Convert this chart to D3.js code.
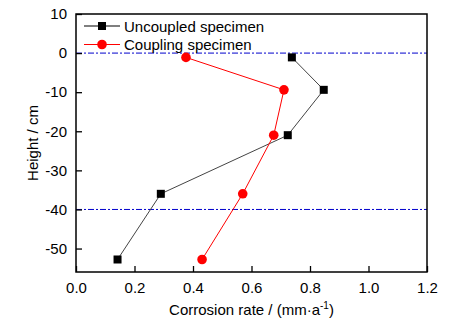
<!DOCTYPE html>
<html>
<head>
<meta charset="utf-8">
<script src="https://cdn.jsdelivr.net/npm/d3@7"></script>
<style>
	body{margin:0;background:#fff;}
	text{font-family:Arial,"Liberation Sans",sans-serif;fill:#000;}
</style>
</head>
<body>
<div id="chart"></div>
<script>
// corrosion rate (mm/a) against height (cm)
const heights = [-1.1, -9.4, -21, -36, -52.8];
const uncoupled = [0.738, 0.847, 0.724, 0.290, 0.142];
const coupling = [0.376, 0.711, 0.676, 0.570, 0.431];
const refLines = [0, -40];
const xTicks = [0, 0.2, 0.4, 0.6, 0.8, 1.0, 1.2];
const yTicks = [10, 0, -10, -20, -30, -40, -50];

const W = 455, H = 330;
const m = {t:14, r:28, b:58, l:76};
const w = W - m.l - m.r, h = H - m.t - m.b;

const svg = d3.select('#chart').append('svg')
	.attr('width',W).attr('height',H);
const g = svg.append('g').attr('transform',`translate(${m.l},${m.t})`);

const x = d3.scaleLinear().domain([0,1.2]).range([0,w]);
const y = d3.scaleLinear().domain([-56,10]).range([h,0]);

// dash-dot reference lines
g.selectAll('.ref')
	.data(refLines)
	.enter().append('line').attr('class','ref')
	.attr('x1',0).attr('x2',w)
	.attr('y1',d=>y(d)).attr('y2',d=>y(d))
	.style('stroke','#0000cc')
	.style('stroke-width',1)
	.style('stroke-dasharray','6,2,2,2');

// axes with inward ticks
const xAxis = g.append('g').attr('transform',`translate(0,${h})`)
	.call(d3.axisBottom(x).tickValues(xTicks).tickFormat(d3.format('.1f')).tickSizeInner(-6).tickSizeOuter(0).tickPadding(10));
const yAxis = g.append('g')
	.call(d3.axisLeft(y).tickValues(yTicks).tickFormat(d=>d).tickSizeInner(-6).tickSizeOuter(0).tickPadding(9));
[xAxis,yAxis].forEach(a=>{
	a.selectAll('path').remove();
	a.selectAll('line').style('stroke','#000').style('stroke-width',1.3);
	a.selectAll('text').style('font-size','15px').style('fill','#000');
});

// frame
g.append('rect')
	.attr('width',w).attr('height',h)
	.style('fill','none').style('stroke','#000').style('stroke-width',1.5);

const series = [
	{name:'Uncoupled specimen', vals:uncoupled, line:'#444', fill:'#000', shape:'square'},
	{name:'Coupling specimen', vals:coupling, line:'#ff0000', fill:'#ff0000', shape:'circle'}
];

const lineGen = d3.line().x(d=>x(d[0])).y(d=>y(d[1]));

function marker(sel, s){
	if(s.shape==='square'){
		sel.append('rect').attr('x',-4).attr('y',-4).attr('width',8).attr('height',8).style('fill',s.fill);
	}else{
		sel.append('circle').attr('r',4.8).style('fill',s.fill);
	}
}

series.forEach(s=>{
	const pts = s.vals.map((v,i)=>[v,heights[i]]);
	g.append('path')
		.attr('d',lineGen(pts))
		.style('fill','none')
		.style('stroke',s.line)
		.style('stroke-width',1);
	g.selectAll(null)
		.data(pts)
		.enter().append('g')
		.attr('transform',d=>`translate(${x(d[0])},${y(d[1])})`)
		.each(function(){ marker(d3.select(this), s); });
});

// legend
const legend = g.append('g').attr('transform','translate(8,12)');
series.forEach((s,i)=>{
	const row = legend.append('g').attr('transform',`translate(0,${i*18.5})`);
	row.append('line').attr('x1',0).attr('x2',36)
		.style('stroke',s.line==='#444'?'#000':s.line).style('stroke-width',1.2);
	marker(row.append('g').attr('transform','translate(18,0)'), s);
	row.append('text').attr('x',40).attr('y',5.5)
		.style('font-size','15px').text(s.name);
});

// axis titles
svg.append('text')
	.attr('transform',`translate(38,${m.t+h/2}) rotate(-90)`)
	.attr('text-anchor','middle')
	.style('font-size','15px')
	.text('Height / cm');

const xt = svg.append('text')
	.attr('x',m.l+w/2).attr('y',315)
	.attr('text-anchor','middle')
	.style('font-size','15px');
xt.append('tspan').text('Corrosion rate / (mm·a');
xt.append('tspan').attr('dy',-6).style('font-size','10px').text('-1');
xt.append('tspan').attr('dy',6).text(')');
</script>
</body>
</html>
